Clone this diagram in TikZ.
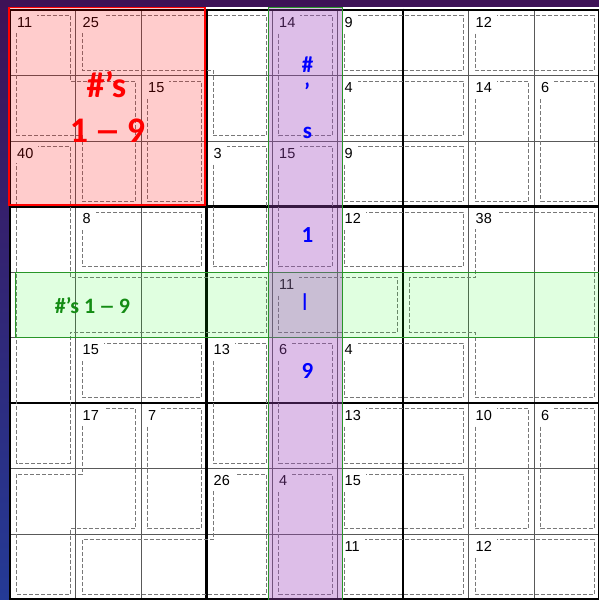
\documentclass[tikz,border=0pt]{standalone}
\usepackage{graphicx}
\usepackage{fontspec}
\setmainfont{Liberation Sans}
\newfontfamily\hintfont{Carlito}
\definecolor{bgtop}{RGB}{62,18,86}
\definecolor{bgbot}{RGB}{36,58,150}
\definecolor{cagegray}{RGB}{120,120,120}
\definecolor{bandgreen}{RGB}{40,150,40}
\definecolor{colpurple}{RGB}{160,70,190}
\definecolor{hintgreen}{RGB}{20,140,20}
\newcommand{\longdash}{\scalebox{1.5}[1]{–}}
\begin{document}
\begin{tikzpicture}[x=1pt, y=-1pt,
  gline/.style={draw=black!65, line width=0.9pt},
  bline/.style={draw=black, line width=2.8pt},
  cage/.style={draw=cagegray, line width=0.9pt, dash pattern=on 4pt off 2pt},
  cnum/.style={anchor=north west, fill=white, inner xsep=5pt, inner ysep=5pt,
    font=\fontsize{14.5}{14.5}\selectfont},
  hint/.style={font=\hintfont\bfseries\fontsize{#1}{#1}\selectfont, anchor=base}
]
  \useasboundingbox (0,0) rectangle (599,600);
  \shade[top color=bgtop, bottom color=bgbot] (0,0) rectangle (599,600);
  \fill[white] (8.5,7) rectangle (599,600);

  % grid
  \foreach \k in {0,...,9} {
    \draw[gline] ({10+65.5*\k},10) -- ({10+65.5*\k},599.5);
    \draw[gline] (10,{10+65.5*\k}) -- (599.5,{10+65.5*\k});
  }
  \foreach \k in {0,3,6,9} {
    \draw[bline] ({10+65.5*\k},8.6) -- ({10+65.5*\k},600.9);
    \draw[bline] (8.6,{10+65.5*\k}) -- (600.9,{10+65.5*\k});
  }

  % cages
  \draw[cage] (16.5,15.5) -- (70,15.5) -- (70,81) -- (135.5,81) -- (135.5,201) -- (82,201) -- (82,135.5) -- (16.5,135.5) -- cycle;
  \draw[cage] (82,15.5) -- (266.5,15.5) -- (266.5,135.5) -- (213,135.5) -- (213,70) -- (82,70) -- cycle;
  \draw[cage] (278.5,15.5) rectangle (332,135.5);
  \draw[cage] (344,15.5) rectangle (463,70);
  \draw[cage] (475,15.5) rectangle (594,70);
  \draw[cage] (147.5,81) rectangle (201,201);
  \draw[cage] (344,81) rectangle (463,135.5);
  \draw[cage] (475,81) rectangle (528.5,201);
  \draw[cage] (540.5,81) rectangle (594,201);
  \draw[cage] (16.5,146.5) -- (70,146.5) -- (70,277.5) -- (266.5,277.5) -- (266.5,332) -- (70,332) -- (70,463) -- (16.5,463) -- cycle;
  \draw[cage] (213,146.5) rectangle (266.5,266.5);
  \draw[cage] (278.5,146.5) rectangle (332,266.5);
  \draw[cage] (344,146.5) rectangle (463,201);
  \draw[cage] (82,212) rectangle (201,266.5);
  \draw[cage] (344,212) rectangle (463,266.5);
  \draw[cage] (475,212) -- (594,212) -- (594,397.5) -- (475,397.5) -- (475,332) -- (409.5,332) -- (409.5,277.5) -- (475,277.5) -- cycle;
  \draw[cage] (278.5,277.5) rectangle (397.5,332);
  \draw[cage] (82,343) rectangle (201,397.5);
  \draw[cage] (213,343) rectangle (266.5,463);
  \draw[cage] (278.5,343) rectangle (332,463);
  \draw[cage] (344,343) rectangle (463,397.5);
  \draw[cage] (82,408.5) -- (135.5,408.5) -- (135.5,528.5) -- (70,528.5) -- (70,594) -- (16.5,594) -- (16.5,474) -- (82,474) -- cycle;
  \draw[cage] (147.5,408.5) rectangle (201,528.5);
  \draw[cage] (344,408.5) rectangle (463,463);
  \draw[cage] (475,408.5) rectangle (528.5,528.5);
  \draw[cage] (540.5,408.5) rectangle (594,528.5);
  \draw[cage] (213,474) -- (266.5,474) -- (266.5,594) -- (82,594) -- (82,539.5) -- (213,539.5) -- cycle;
  \draw[cage] (278.5,474) rectangle (332,594);
  \draw[cage] (344,474) rectangle (463,528.5);
  \draw[cage] (344,539.5) rectangle (463,594);
  \draw[cage] (475,539.5) rectangle (594,594);

  % cage sums
  \node[cnum] (k00) at (12,12) {11};
  \node[cnum] (k01) at (77.5,12) {25};
  \node[cnum] (k04) at (274,12) {14};
  \node[cnum] (k05) at (339.5,12) {9};
  \node[cnum] (k07) at (470.5,12) {12};
  \node[cnum] (k12) at (143,77.5) {15};
  \node[cnum] (k15) at (339.5,77.5) {4};
  \node[cnum] (k17) at (470.5,77.5) {14};
  \node[cnum] (k18) at (536,77.5) {6};
  \node[cnum] (k20) at (12,143) {40};
  \node[cnum] (k23) at (208.5,143) {3};
  \node[cnum] (k24) at (274,143) {15};
  \node[cnum] (k25) at (339.5,143) {9};
  \node[cnum] (k31) at (77.5,208.5) {8};
  \node[cnum] (k35) at (339.5,208.5) {12};
  \node[cnum] (k37) at (470.5,208.5) {38};
  \node[cnum] (k44) at (274,274) {11};
  \node[cnum] (k51) at (77.5,339.5) {15};
  \node[cnum] (k53) at (208.5,339.5) {13};
  \node[cnum] (k54) at (274,339.5) {6};
  \node[cnum] (k55) at (339.5,339.5) {4};
  \node[cnum] (k61) at (77.5,405) {17};
  \node[cnum] (k62) at (143,405) {7};
  \node[cnum] (k65) at (339.5,405) {13};
  \node[cnum] (k67) at (470.5,405) {10};
  \node[cnum] (k68) at (536,405) {6};
  \node[cnum] (k73) at (208.5,470.5) {26};
  \node[cnum] (k74) at (274,470.5) {4};
  \node[cnum] (k75) at (339.5,470.5) {15};
  \node[cnum] (k85) at (339.5,536) {11};
  \node[cnum] (k87) at (470.5,536) {12};

  % highlighted row, column and box
  \fill[green, opacity=0.12] (15,272) rectangle (601,337.5);
  \draw[bandgreen, line width=0.9pt] (15,272) rectangle (601,337.5);
  \fill[colpurple, opacity=0.35] (268,7.5) rectangle (342.5,601);
  \draw[bandgreen, line width=0.9pt] (268,7.5) rectangle (342.5,601);
  \fill[red, opacity=0.2] (9,7.5) rectangle (205,205);
  \draw[red, line width=1.2pt] (9,7.5) rectangle (205,205);

  \node[hint=36, text=red] (bxa) at (106.5,97) {\#’s};
  \node[hint=36, text=red] (bxb) at (107.5,142) {1\,\longdash\,9};
  \node[hint=22, text=hintgreen] (rw) at (92.5,313) {\#’s 1\,\longdash\,9};
  \node[hint=23, text=blue] (cl1) at (307.5,72) {\#};
  \node[hint=23, text=blue, anchor=center] (cl2) at (307,91) {’};
  \node[hint=23, text=blue] (cl3) at (307.5,138) {s};
  \node[hint=23, text=blue] (cl4) at (307.5,242) {1};
  \node[hint=23, text=blue, anchor=center, rotate=90] (cl5) at (307.5,302.5) {—};
  \node[hint=23, text=blue] (cl6) at (307.5,378) {9};
\end{tikzpicture}
\end{document}
